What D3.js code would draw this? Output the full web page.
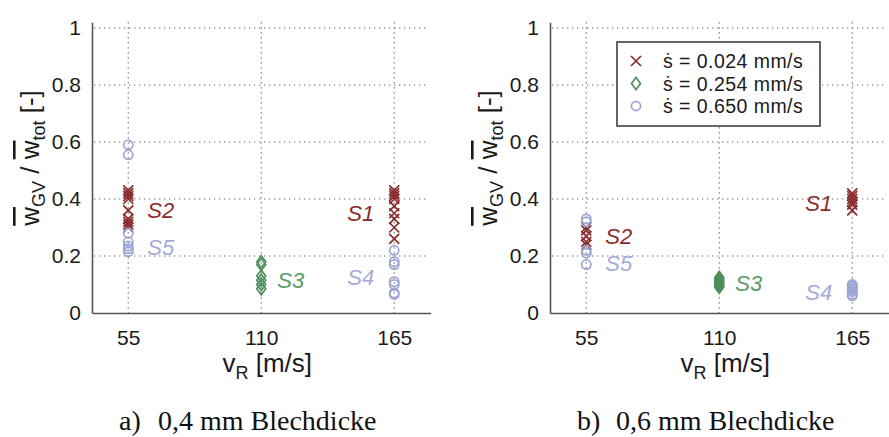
<!DOCTYPE html>
<html><head><meta charset="utf-8">
<script src="https://cdn.jsdelivr.net/npm/d3@7"></script>
<style>
body{margin:0;background:#fff;}
svg{display:block;}
text{font-family:"Liberation Sans",Arial,sans-serif;}
text.serif{font-family:"Liberation Serif","Times New Roman",serif;}
</style></head>
<body><svg id="c" width="889" height="437"></svg>
<script>
// ---- data ----
const categories = [55, 110, 165];
const xTickLabels = ["55", "110", "165"];
const yTicks = [0, 0.2, 0.4, 0.6, 0.8, 1];
const yTickLabels = ["0", "0.2", "0.4", "0.6", "0.8", "1"];
const seriesNames = ["ṡ = 0.024 mm/s", "ṡ = 0.254 mm/s", "ṡ = 0.650 mm/s"];

// panel a) 0,4 mm
const a_s024_55  = [0.43, 0.42, 0.41, 0.40, 0.36, 0.33, 0.32, 0.31, 0.30];
const a_s024_165 = [0.43, 0.42, 0.41, 0.40, 0.375, 0.35, 0.33, 0.30, 0.26];
const a_s254_110 = [0.18, 0.17, 0.13, 0.115, 0.10, 0.085];
const a_s650_55  = [0.59, 0.555, 0.28, 0.25, 0.235, 0.225, 0.215];
const a_s650_165 = [0.22, 0.18, 0.17, 0.11, 0.10, 0.07, 0.065];
// panel b) 0,6 mm
const b_s024_55  = [0.30, 0.29, 0.27, 0.25, 0.24];
const b_s024_165 = [0.42, 0.41, 0.40, 0.39, 0.38, 0.36];
const b_s254_110 = [0.125, 0.12, 0.115, 0.11, 0.105, 0.10, 0.095, 0.09];
const b_s650_55  = [0.33, 0.32, 0.22, 0.21, 0.17];
const b_s650_165 = [0.10, 0.095, 0.09, 0.085, 0.08, 0.075, 0.065, 0.06];

// annotation labels: [name, category, value, series]
const a_labels = [["S2", 55, 0.36, 0], ["S5", 55, 0.23, 2], ["S3", 110, 0.115, 1], ["S1", 165, 0.35, 0], ["S4", 165, 0.125, 2]];
const b_labels = [["S2", 55, 0.27, 0], ["S5", 55, 0.175, 2], ["S3", 110, 0.105, 1], ["S1", 165, 0.385, 0], ["S4", 165, 0.075, 2]];

const captions = [["a)", "0,4 mm Blechdicke"], ["b)", "0,6 mm Blechdicke"]];

// ---- styles ----
const markColors = ["#8a2b2b", "#4f8f5c", "#9ea4d6"];
const labelColors = ["#8a2b2b", "#5a9a68", "#a5aad6"];

const svg = d3.select("#c");

function points(cat, vals, s) { return vals.map(v => ({x: cat, y: v, s})); }

function marker(g, s, cx, cy, color) {
  if (s === 0) {
    const r = 5;
    g.append("path").attr("d", `M${cx-r},${cy-r}L${cx+r},${cy+r}M${cx-r},${cy+r}L${cx+r},${cy-r}`)
      .attr("stroke", color).attr("stroke-width", 1.7).attr("fill", "none");
  } else if (s === 1) {
    const r = 6;
    g.append("path").attr("d", `M${cx},${cy-r}L${cx+r*0.75},${cy}L${cx},${cy+r}L${cx-r*0.75},${cy}Z`)
      .attr("stroke", color).attr("stroke-width", 1.7).attr("fill", "none");
  } else {
    g.append("circle").attr("cx", cx).attr("cy", cy).attr("r", 4.6)
      .attr("stroke", color).attr("stroke-width", 1.7).attr("fill", "none");
  }
}

function panel(x0, data, labels, caption, legend) {
  const x = d3.scaleLinear().domain([40, 180]).range([x0, x0 + 338.5]);
  const y = d3.scaleLinear().domain([0, 1.02]).range([313, 22.3]);
  const g = svg.append("g");

  // grid
  const grid = g.append("g").attr("stroke", "#666").attr("stroke-width", 1.2).attr("stroke-dasharray", "1.3,3.7");
  yTicks.filter(t => t > 0).forEach(t => {
    grid.append("line").attr("x1", x0 + 2).attr("x2", Math.min(x(180) - 2, 889)).attr("y1", y(t)).attr("y2", y(t));
  });
  categories.forEach(c => {
    grid.append("line").attr("x1", x(c)).attr("x2", x(c)).attr("y1", y(1.02)).attr("y2", y(0));
  });

  // axes
  const xAxis = d3.axisBottom(x).tickValues(categories).tickFormat((d, i) => xTickLabels[i]).tickSize(0).tickPadding(12);
  const gx = g.append("g").attr("transform", `translate(0,${y(0)})`).call(xAxis);
  const yAxis = d3.axisLeft(y).tickValues(yTicks).tickFormat((d, i) => yTickLabels[i]).tickSize(0).tickPadding(11);
  const gy = g.append("g").attr("transform", `translate(${x0},0)`).call(yAxis);
  [gx, gy].forEach(a => {
    a.select(".domain").attr("stroke", "#555").attr("stroke-width", 1.6);
    a.selectAll("text").attr("font-size", 21).attr("fill", "#1a1a1a").attr("font-family", "Liberation Sans, Arial, sans-serif");
  });
  gx.selectAll("text").attr("dy", "0.95em");

  // markers
  const mg = g.append("g");
  data.forEach(p => marker(mg, p.s, x(p.x), y(p.y), markColors[p.s]));

  // labels
  labels.forEach(([name, c, v, s]) => {
    const anchorEnd = c === 165;
    const off = c === 110 ? 16 : (anchorEnd ? -20 : 19);
    g.append("text").attr("x", x(c) + off).attr("y", y(v)).attr("dy", "0.36em")
      .attr("text-anchor", anchorEnd ? "end" : "start")
      .attr("font-size", 22).attr("font-style", "italic").attr("fill", labelColors[s]).text(name);
  });

  // axis titles
  const xt = g.append("text").attr("x", (x(40) + x(180)) / 2 + 6).attr("y", 372).attr("text-anchor", "middle")
    .attr("font-size", 26).attr("fill", "#1a1a1a");
  xt.append("tspan").text("v");
  xt.append("tspan").attr("font-size", 18).attr("dy", 7).text("R");
  xt.append("tspan").attr("dy", -7).text(" [m/s]");

  const yt = g.append("text").attr("transform", `translate(${x0 - 53},158) rotate(-90)`).attr("text-anchor", "middle")
    .attr("font-size", 26).attr("fill", "#1a1a1a");
  yt.append("tspan").style("text-decoration", "overline").text("w");
  yt.append("tspan").attr("font-size", 18).attr("dy", 6).text("GV");
  yt.append("tspan").attr("dy", -6).text(" / ");
  yt.append("tspan").style("text-decoration", "overline").text("w");
  yt.append("tspan").attr("font-size", 18).attr("dy", 6).text("tot");
  yt.append("tspan").attr("dy", -6).text(" [-]");

  // caption
  g.append("text").attr("class", "serif").attr("x", x0 + 27).attr("y", 430)
    .attr("font-size", 28).attr("fill", "#111").text(caption[0]);
  g.append("text").attr("class", "serif").attr("x", x0 + 66).attr("y", 430)
    .attr("font-size", 28).attr("fill", "#111").text(caption[1]);

  if (legend) {
    const lg = g.append("g");
    lg.append("rect").attr("x", 617).attr("y", 42).attr("width", 203).attr("height", 84)
      .attr("fill", "#fff").attr("stroke", "#333").attr("stroke-width", 1.5);
    seriesNames.forEach((n, i) => {
      const cy = 61 + i * 22.5;
      marker(lg, i, 636, cy, markColors[i]);
      lg.append("text").attr("x", 663).attr("y", cy).attr("dy", "0.36em").attr("font-size", 19.5)
        .attr("letter-spacing", 0.45).attr("fill", "#1a1a1a").text(n);
    });
  }
}

const aData = [].concat(points(55, a_s024_55, 0), points(165, a_s024_165, 0), points(110, a_s254_110, 1),
  points(55, a_s650_55, 2), points(165, a_s650_165, 2));
const bData = [].concat(points(55, b_s024_55, 0), points(165, b_s024_165, 0), points(110, b_s254_110, 1),
  points(55, b_s650_55, 2), points(165, b_s650_165, 2));

panel(92, aData, a_labels, captions[0], false);
panel(550, bData, b_labels, captions[1], true);
</script></body></html>
